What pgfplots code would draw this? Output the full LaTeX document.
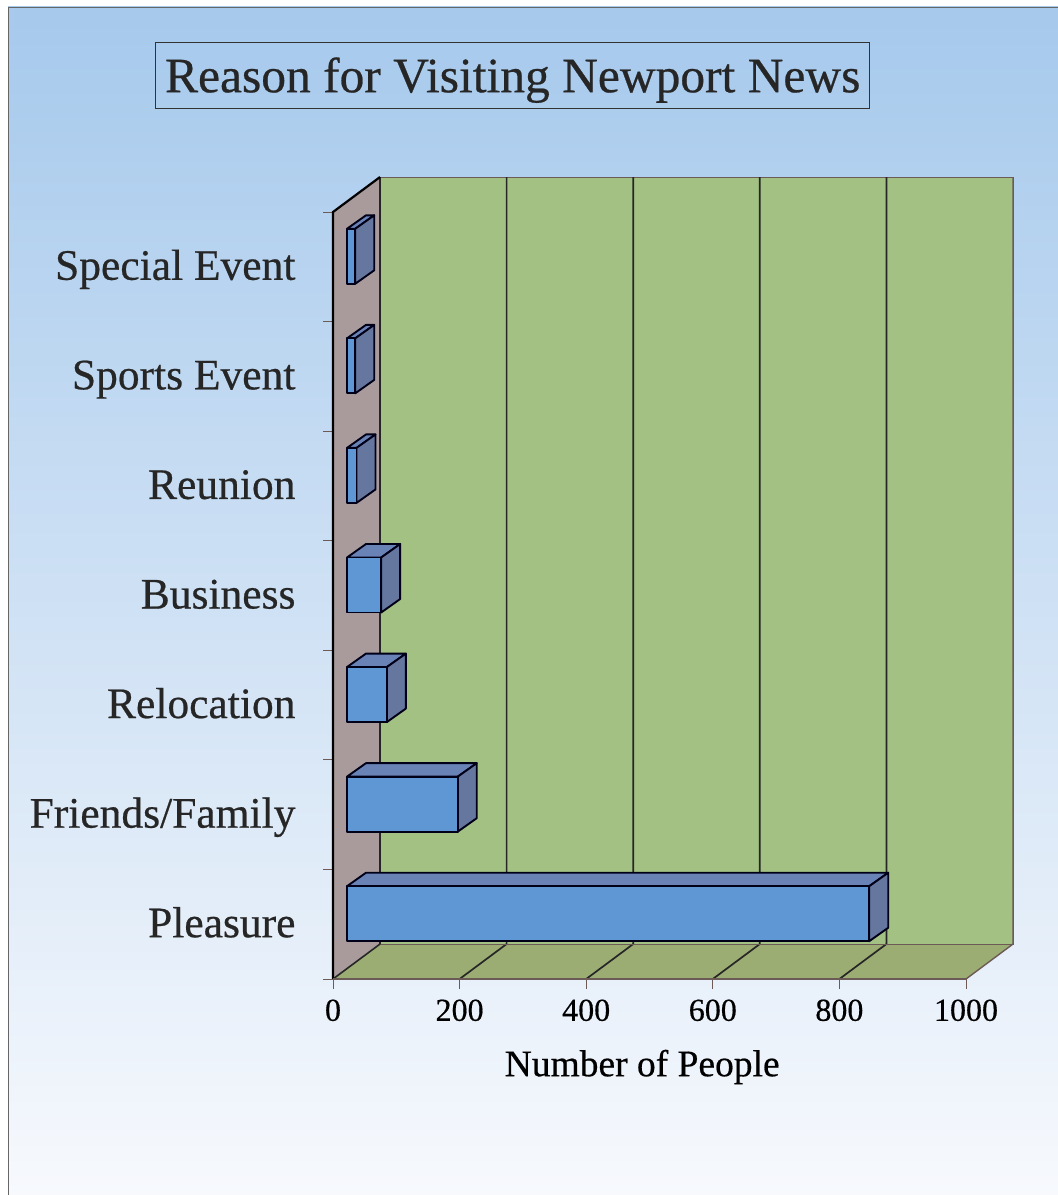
\documentclass[border=0pt]{standalone}
\usepackage{fontspec}
\setmainfont[FakeBold=0.5]{Liberation Serif}
\usepackage{pgfplots}
\pgfplotsset{compat=1.18}

\definecolor{wallgreen}{HTML}{A2C182}
\definecolor{floorgreen}{HTML}{9CAD74}
\definecolor{sidewall}{HTML}{A99B9C}
\definecolor{barfront}{HTML}{5E97D3}
\definecolor{bartop}{HTML}{6A83B6}
\definecolor{barside}{HTML}{66779F}
\definecolor{edgebrown}{HTML}{6B5A55}
\definecolor{bgtop}{HTML}{A6C9EC}
\definecolor{bgmid}{HTML}{C3DAF1}
\definecolor{bgbot}{HTML}{F7F9FD}

% depth of the chart box in data units: 47px right, 35px up
\newcommand{\dx}{74.25}
\newcommand{\dy}{0.319}

% one 3D bar: category position, value
\newcommand{\threedbar}[2]{%
  \pgfmathsetmacro{\yt}{#1+0.251}%
  \pgfmathsetmacro{\yb}{#1-0.251}%
  \pgfmathsetmacro{\ytt}{\yt+0.123}%
  \pgfmathsetmacro{\ybb}{\yb+0.123}%
  \pgfmathsetmacro{\xe}{#2+30}%
  \addplot[barpoly, fill=bartop] coordinates {(0,\yt) (#2,\yt) (\xe,\ytt) (30,\ytt)} --cycle;
  \addplot[barpoly, fill=barside] coordinates {(#2,\yt) (\xe,\ytt) (\xe,\ybb) (#2,\yb)} --cycle;
  \addplot[barpoly, xbar, bar width=55pt, fill=barfront] coordinates {(#2,#1)};
}

\begin{document}
\begin{tikzpicture}
\useasboundingbox (0,0) rectangle (1058pt,1195pt);
\fill[white] (0,0) rectangle (1058pt,1195pt);
% page background
\shade[top color=bgtop, middle color=bgmid, bottom color=bgbot] (8pt,-2pt) rectangle (1060pt,1188pt);
\draw[gray!80!black, line width=0.8pt] (8pt,0pt) -- (8pt,1188pt) -- (1058pt,1188pt);

\begin{axis}[
    at={(333pt,216pt)}, anchor=south west,
    scale only axis,
    width=633pt, height=767pt,
    xmin=0, xmax=1000,
    ymin=-0.5, ymax=6.5,
    clip=false,
    axis line style={draw=none},
    xtick={0,200,400,600,800,1000},
    ytick={-0.5,0.5,1.5,2.5,3.5,4.5,5.5,6.5},
    yticklabels={},
    extra y ticks={0,1,2,3,4,5,6},
    extra y tick labels={Pleasure,Friends/Family,Relocation,Business,Reunion,Sports Event,Special Event},
    extra y tick style={major tick length=0pt, tick style={draw=none}},
    tick align=outside,
    major tick length=10pt,
    tick style={draw=edgebrown, line width=0.8pt},
    xtick pos=bottom, ytick pos=left,
    /pgf/number format/assume math mode=true,
    /pgf/number format/1000 sep={},
    xticklabel style={font=\fontsize{32}{32}\selectfont, yshift=-7pt},
    yticklabel style={font=\fontsize{43.5}{43.5}\selectfont, text=black!85, xshift=-34pt, text height=34pt, text depth=8pt},
    xlabel={Number of People},
    xlabel style={font=\fontsize{37.5}{37.5}\selectfont, at={(axis description cs:0.4885,0)}, anchor=center, yshift=-88pt},
    title={Reason for Visiting Newport News},
    title style={font=\fontsize{49.5}{49.5}\selectfont, text=black!85, at={(axis description cs:0.284,1.1705)}, anchor=center,
        draw=black!80, line width=1.1pt, minimum width=714pt, minimum height=66pt, inner sep=0pt, text height=50pt, text depth=16pt},
    barpoly/.style={draw=black!90!blue, line width=1.9pt, line join=round, mark=none, xshift=14pt, yshift=10.5pt, forget plot},
    plane/.style={mark=none, forget plot},
]
% walls and floor
\addplot[plane, fill=wallgreen, draw=edgebrown, line width=0.8pt] coordinates {(\dx,-0.181) (1074.25,-0.181) (1074.25,6.819) (\dx,6.819)} --cycle;
\addplot[plane, fill=floorgreen, draw=none] coordinates {(0,-0.5) (1000,-0.5) (1074.25,-0.181) (\dx,-0.181)} --cycle;
\addplot[plane, fill=sidewall, draw=none] coordinates {(0,-0.5) (\dx,-0.181) (\dx,6.819) (0,6.5)} --cycle;

% grid lines over floor and back wall
\addplot[plane, draw=black!85, line width=1.7pt] coordinates {(200,-0.5) (274.25,-0.181) (274.25,6.819)};
\addplot[plane, draw=black!85, line width=1.7pt] coordinates {(400,-0.5) (474.25,-0.181) (474.25,6.819)};
\addplot[plane, draw=black!85, line width=1.7pt] coordinates {(600,-0.5) (674.25,-0.181) (674.25,6.819)};
\addplot[plane, draw=black!85, line width=1.7pt] coordinates {(800,-0.5) (874.25,-0.181) (874.25,6.819)};
\addplot[plane, draw=edgebrown, line width=1.4pt] coordinates {(1000,-0.5) (1074.25,-0.181) (1074.25,6.819)};
\addplot[plane, draw=black!85, line width=1.6pt] coordinates {(\dx,-0.181) (\dx,6.819)};
\addplot[plane, draw=edgebrown, line width=0.8pt] coordinates {(\dx,-0.181) (1074.25,-0.181)};
\addplot[plane, draw=black!85, line width=1.6pt] coordinates {(0,-0.5) (\dx,-0.181)};
\addplot[plane, draw=black, line width=2.2pt] coordinates {(0,-0.5) (0,6.5) (\dx,6.819)};
\addplot[plane, draw=edgebrown, line width=2pt] coordinates {(0,-0.5) (1000,-0.5)};

% bars, back to front
\threedbar{6}{13}
\threedbar{5}{13}
\threedbar{4}{15}
\threedbar{3}{54}
\threedbar{2}{63}
\threedbar{1}{175}
\threedbar{0}{825}
\end{axis}
\end{tikzpicture}
\end{document}
